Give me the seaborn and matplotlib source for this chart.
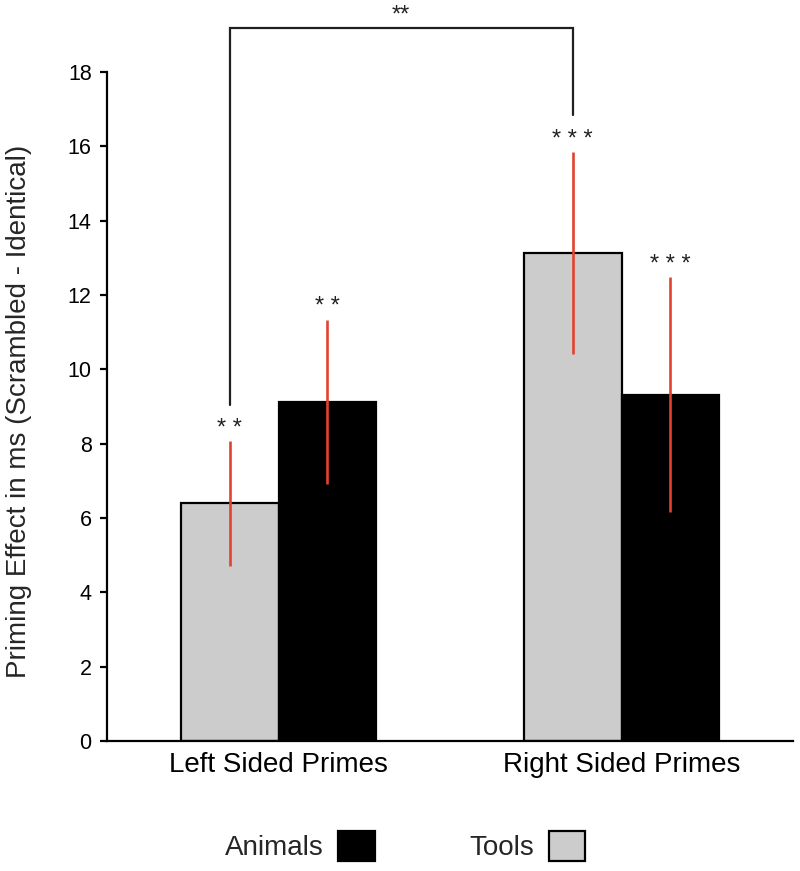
import matplotlib
matplotlib.use("Agg")
import matplotlib.pyplot as plt
from matplotlib.patches import Patch
import seaborn as sns
import pandas as pd

# values
primes = ["Left Sided Primes", "Right Sided Primes"]
categories = ["Tools", "Animals"]
tools_means = [6.4, 13.13]
animals_means = [9.13, 9.32]
tools_err = [1.68, 2.72]
animals_err = [2.21, 3.16]
tools_stars = ["* *", "* * *"]
animals_stars = ["* *", "* * *"]
bracket_label = "**"

df = pd.DataFrame({
    "prime": primes * 2,
    "category": ["Tools"] * 2 + ["Animals"] * 2,
    "effect": tools_means + animals_means,
})

sns.set_style("ticks")
plt.rcParams["font.family"] = ["Liberation Sans", "DejaVu Sans"]

fig = plt.figure(figsize=(8, 8.71), dpi=100)
ax = fig.add_axes([0.13375, 0.14925, 0.8575, 0.85075])

sns.barplot(data=df, x="prime", y="effect", hue="category",
            hue_order=categories, order=primes,
            palette={"Tools": "#cccccc", "Animals": "#000000"},
            edgecolor="black", linewidth=1.6, width=0.57,
            errorbar=None, legend=False, ax=ax)

# error bars and stars, positioned from the drawn bars
red = "#e2432f"
bars = ax.patches[:4]
xs = [b.get_x() + b.get_width() / 2 for b in bars]
means = tools_means + animals_means
errs = tools_err + animals_err
stars = tools_stars + animals_stars
ax.vlines(xs, [m - e for m, e in zip(means, errs)],
          [m + e for m, e in zip(means, errs)], color=red, lw=1.9, zorder=5)
for x, m, e, s in zip(xs, means, errs, stars):
    ax.text(x, m + e + 0.03, s, ha="center", va="bottom", fontsize=17,
            color="#222222")

# bracket between the two Tools bars
top = 19.18
bl, br = xs[0], xs[1]
ax.plot([bl, bl, br, br], [9.04, top, top, 16.84], color="#231f20",
        lw=1.6, clip_on=False, solid_joinstyle="miter")
ax.text((bl + br) / 2, top + 0.05, bracket_label, ha="center", va="bottom",
        fontsize=17, color="#222222")

ax.set_xlim(-0.5, 1.5)
ax.set_ylim(0, 19.94)
ax.set_yticks(range(0, 19, 2))
ax.spines["left"].set_bounds(0, 18)
for side in ["top", "right"]:
    ax.spines[side].set_visible(False)
for side in ["left", "bottom"]:
    ax.spines[side].set_linewidth(1.6)
    ax.spines[side].set_color("black")
ax.tick_params(axis="y", length=5, width=1.6, labelsize=15.5, pad=6,
               colors="black")
ax.tick_params(axis="x", length=0, labelsize=20, pad=8, colors="black")
ax.set_xlabel("")
ax.set_ylabel("")
fig.text(0.024, 0.528, "Priming Effect in ms (Scrambled - Identical)",
         rotation=90, ha="center", va="center", fontsize=20)

handles = [Patch(facecolor="black", edgecolor="black", lw=1.6),
           Patch(facecolor="#cccccc", edgecolor="black", lw=1.6)]
fig.legend(handles, ["Animals", "Tools"], loc="center",
           bbox_to_anchor=(0.506, 0.0287), ncol=2, frameon=False,
           markerfirst=False, fontsize=20, handlelength=1.3,
           handleheight=1.3, handletextpad=0.55, columnspacing=3.4)

fig.savefig("out.png", dpi=100)
